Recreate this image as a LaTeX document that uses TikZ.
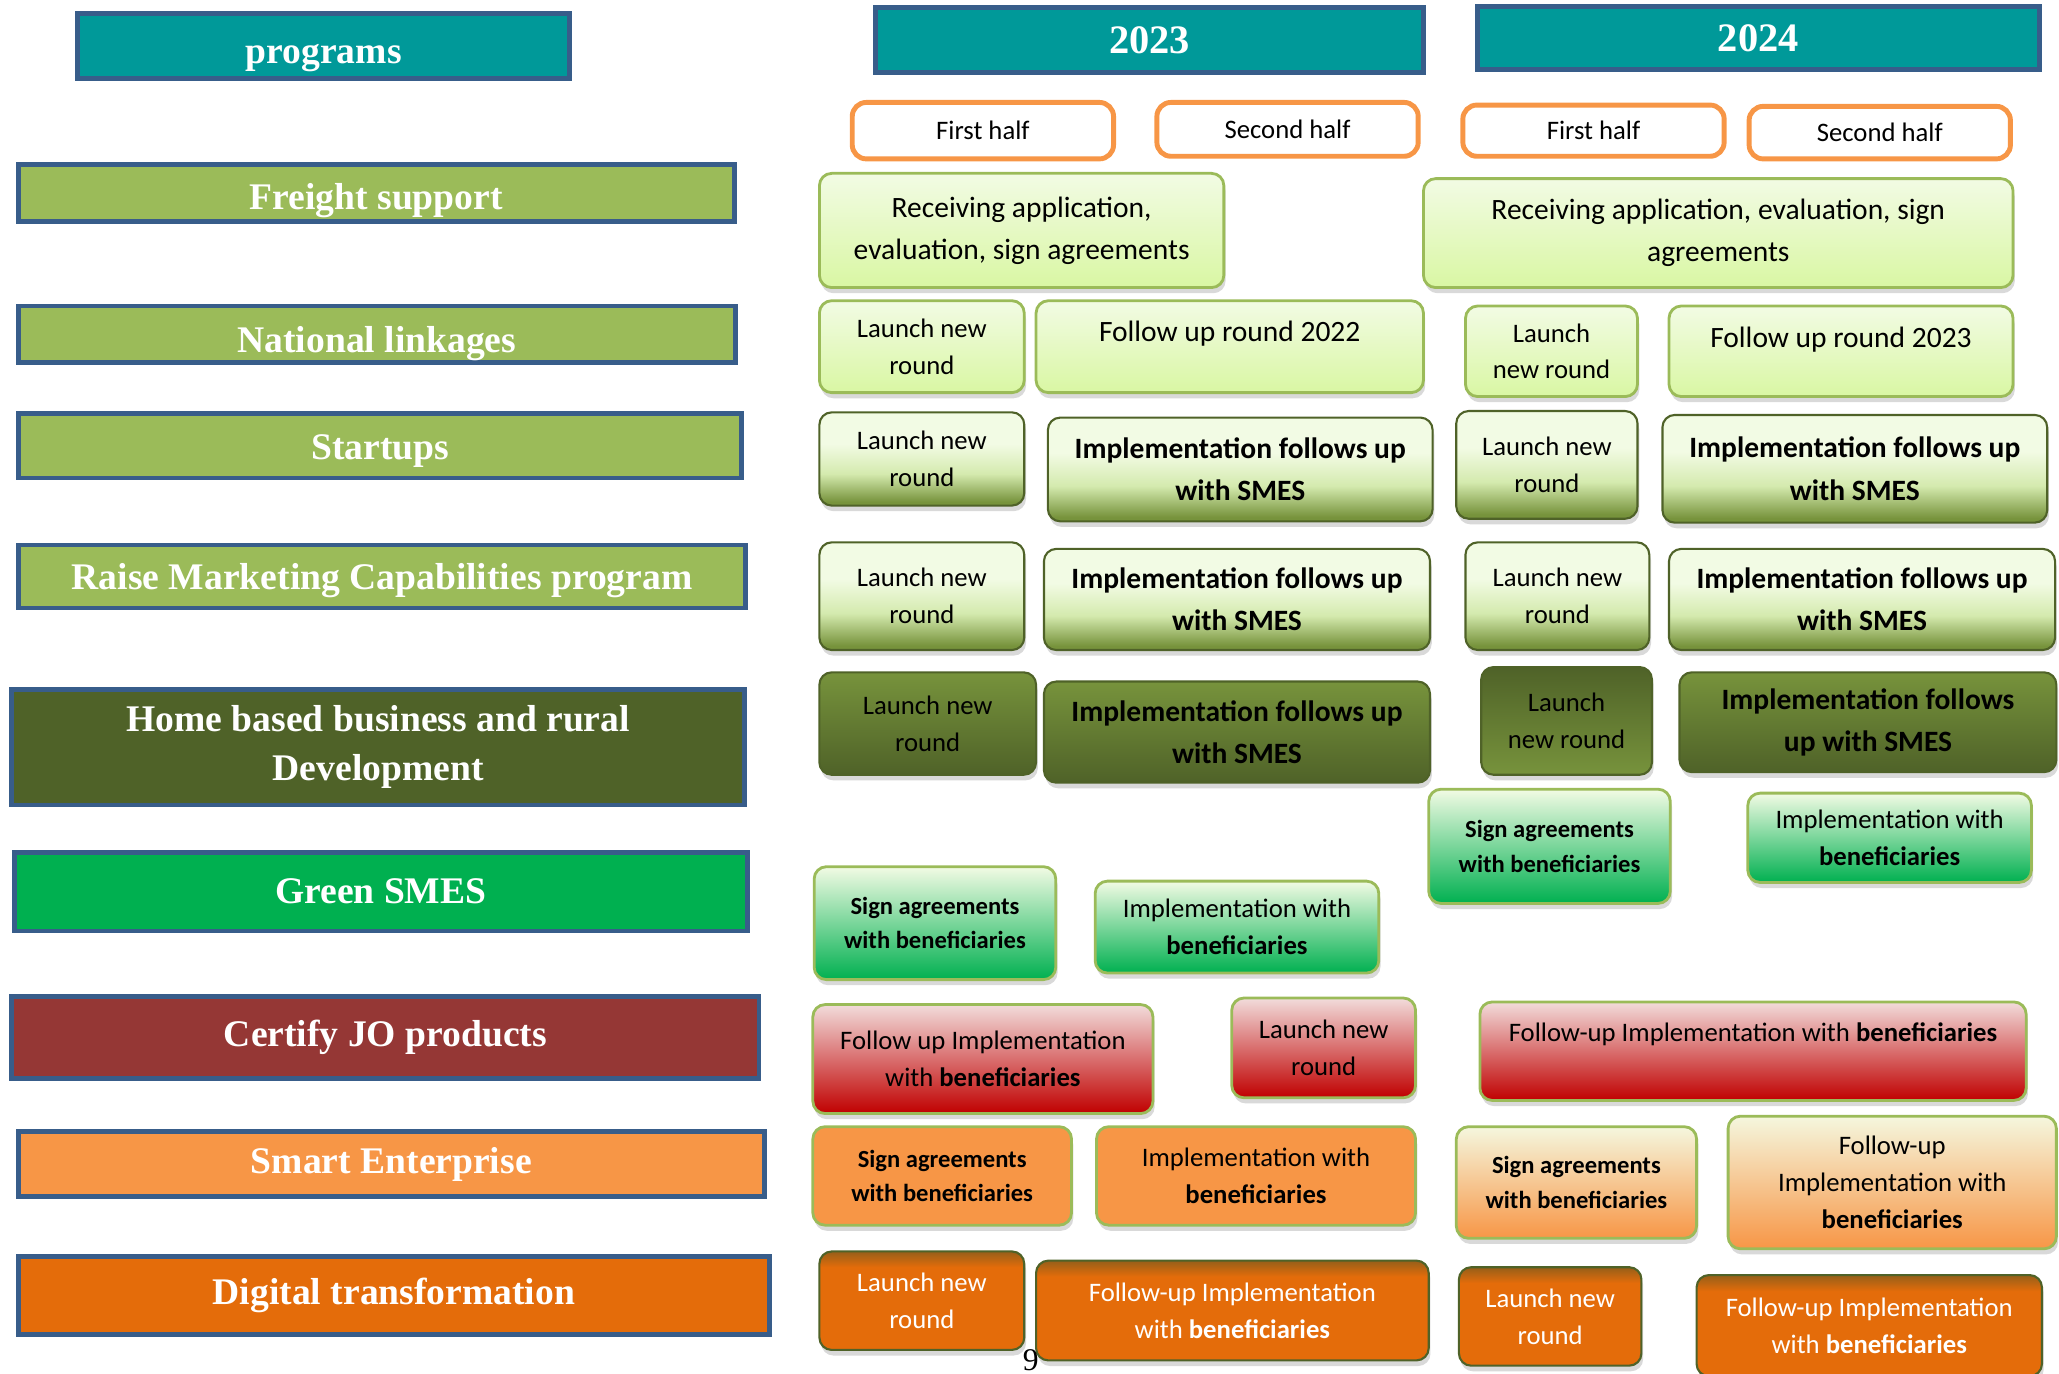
\documentclass[tikz,border=0pt]{standalone}
\usepackage{fontspec}
\setmainfont{Liberation Serif}
\newfontfamily\taskfont{Carlito}
\usepackage{xcolor}
\usepackage{tikz}
\usetikzlibrary{shadows,positioning}
\definecolor{progTeal}{RGB}{0,153,153}
\definecolor{progEdge}{RGB}{56,93,138}
\definecolor{leafGreen}{RGB}{155,187,89}
\definecolor{oliveDark}{RGB}{79,98,40}
\definecolor{oliveMid}{RGB}{119,147,60}
\definecolor{greenSme}{RGB}{0,176,80}
\definecolor{certRed}{RGB}{149,55,53}
\definecolor{smartOrange}{RGB}{247,150,70}
\definecolor{digiOrange}{RGB}{228,108,10}
\definecolor{rustTop}{RGB}{150,95,25}
\definecolor{paleGreen}{RGB}{242,251,228}
\definecolor{limeGreen}{RGB}{217,247,163}
\definecolor{fadeMid}{RGB}{212,234,174}
\definecolor{mintMid}{RGB}{150,225,170}
\definecolor{paleRose}{RGB}{242,220,219}
\definecolor{roseMid}{RGB}{200,85,85}
\definecolor{deepRed}{RGB}{192,0,0}
\definecolor{paleCream}{RGB}{245,247,222}
\definecolor{creamMid}{RGB}{246,200,145}
\pgfdeclareverticalshading{fadeshade}{100bp}{color(0bp)=(oliveMid); color(27bp)=(oliveMid); color(42bp)=(fadeMid); color(58bp)=(paleGreen); color(100bp)=(paleGreen)}
\pgfdeclareverticalshading{rustshade}{100bp}{color(0bp)=(digiOrange); color(67bp)=(digiOrange); color(75bp)=(rustTop); color(100bp)=(rustTop)}

\begin{document}
\begin{tikzpicture}[x=0.013131cm, y=-0.013131cm,
  span/.style n args={4}{at={({(#1+#3)/2},{(#2+#4)/2})},
    minimum width={0.013131cm*(#3-#1)}, minimum height={0.013131cm*(#4-#2)}},
  prog/.style={draw=progEdge, line width=1.4pt, text=white, inner sep=0pt, align=center,
    font=\fontsize{10.7}{14}\selectfont\bfseries},
  half/.style={draw=smartOrange, line width=1.4pt, rounded corners=4pt, fill=white, inner sep=0pt,
    font=\taskfont\fontsize{7.6}{9}\selectfont},
  task/.style={rounded corners=3.5pt, inner sep=0pt, align=center, line width=0.8pt,
    font=\taskfont\fontsize{7.6}{10.5}\selectfont,
    drop shadow={shadow xshift=0.5pt, shadow yshift=-1.6pt, opacity=0.25, fill=black!60}},
  big/.style={font=\taskfont\fontsize{8.4}{12}\selectfont},
  small/.style={font=\taskfont\fontsize{7}{9.8}\selectfont\bfseries},
  lime/.style={task, draw=leafGreen, top color=paleGreen, bottom color=limeGreen},
  fade/.style={task, draw=oliveDark, line width=0.6pt, shade, shading=fadeshade},
  moss/.style={task, draw=oliveDark, line width=0.6pt, top color=oliveMid, bottom color=oliveDark},
  mossup/.style={task, draw=oliveDark, line width=0.6pt, top color=oliveDark, bottom color=oliveMid},
  mint/.style={task, draw=leafGreen, top color=paleGreen, middle color=mintMid, bottom color=greenSme},
  rose/.style={task, draw=leafGreen, top color=paleRose, middle color=roseMid, bottom color=deepRed},
  peach/.style={task, draw=leafGreen, fill=smartOrange},
  cream/.style={task, draw=leafGreen, top color=paleCream, middle color=creamMid, bottom color=smartOrange},
  rust/.style={task, draw=oliveDark, line width=0.6pt, shade, shading=rustshade, text=white}]
\useasboundingbox (0,0) rectangle (1568,1046);

% programs column
\node[prog, fill=progTeal, text height=12.5pt, span={59}{10}{434}{60}] (programs) {programs};
\node[prog, fill=leafGreen, text height=11.8pt, span={14}{125}{559}{169}] (freight) {Freight support};
\node[prog, fill=leafGreen, text height=12.5pt, span={14}{233}{560}{276}] (linkages) {National linkages};
\node[prog, fill=leafGreen, text height=10.3pt, span={14}{315}{565}{364}] (startups) {Startups};
\node[prog, fill=leafGreen, text height=9.5pt, span={14}{415}{568}{463}] (marketing) {Raise Marketing Capabilities program};
\node[prog, fill=oliveDark, span={9}{525}{567}{613}] (homebased) {Home based business and rural\\ Development};
\node[prog, fill=greenSme, span={11}{649}{569}{709}] (greensmes) {Green SMES};
\node[prog, fill=certRed, span={9}{759}{578}{821}] (certify) {Certify JO products};
\node[prog, fill=smartOrange, span={14}{862}{582}{911}] (smart) {Smart Enterprise};
\node[prog, fill=digiOrange, span={14}{957}{586}{1016}] (digital) {Digital transformation};

% years and halves
\node[prog, fill=progTeal, font=\fontsize{11.5}{14}\selectfont\bfseries, span={667}{6}{1084}{55}] (y2023) {2023};
\node[prog, fill=progTeal, font=\fontsize{11.5}{14}\selectfont\bfseries, span={1125}{5}{1553}{53}] (y2024) {2024};
\node[half, span={649}{78}{848}{121}] (h23a) {First half};
\node[half, span={881}{78}{1080}{119}] (h23b) {Second half};
\node[half, span={1114}{80}{1313}{119}] (h24a) {First half};
\node[half, span={1332}{81}{1531}{121}] (h24b) {Second half};

% freight support
\node[lime, big, span={624}{132}{932}{219}] (fr23) {Receiving application,\\ evaluation, sign agreements};
\node[lime, big, span={1084}{136}{1533}{219}] (fr24) {Receiving application, evaluation, sign\\ agreements};

% national linkages
\node[lime, span={624}{229}{780}{299}] (nl23a) {Launch new\\ round};
\node[lime, big, text depth=9pt, span={789}{229}{1084}{299}] (nl23b) {Follow up round 2022};
\node[lime, span={1116}{233}{1247}{302}] (nl24a) {Launch\\ new round};
\node[lime, big, text depth=8pt, span={1271}{233}{1533}{302}] (nl24b) {Follow up round 2023};

% startups
\node[fade, span={624}{314}{780}{385}] (st23a) {Launch new\\ round};
\node[fade, big, span={798}{318}{1091}{397}] (st23b) {\textbf{Implementation follows up}\\ \textbf{with SMES}};
\node[fade, span={1109}{313}{1247}{395}] (st24a) {Launch new\\ round};
\node[fade, big, span={1266}{316}{1559}{398}] (st24b) {\textbf{Implementation follows up}\\ \textbf{with SMES}};

% raise marketing
\node[fade, span={624}{413}{780}{495}] (rm23a) {Launch new\\ round};
\node[fade, big, span={795}{418}{1089}{495}] (rm23b) {\textbf{Implementation follows up}\\ \textbf{with SMES}};
\node[fade, span={1116}{413}{1256}{495}] (rm24a) {Launch new\\ round};
\node[fade, big, span={1271}{418}{1565}{495}] (rm24b) {\textbf{Implementation follows up}\\ \textbf{with SMES}};

% home based
\node[moss, span={624}{512}{789}{590}] (hb23a) {Launch new\\ round};
\node[moss, big, span={795}{519}{1089}{596}] (hb23b) {\textbf{Implementation follows up}\\ \textbf{with SMES}};
\node[mossup, span={1128}{508}{1258}{590}] (hb24a) {Launch\\ new round};
\node[moss, big, span={1279}{512}{1566}{588}] (hb24b) {\textbf{Implementation follows}\\ \textbf{up with SMES}};

% green smes
\node[mint, small, span={1088}{601}{1272}{688}] (gs24a) {Sign agreements\\ with beneficiaries};
\node[mint, span={1331}{604}{1547}{672}] (gs24b) {Implementation with\\ \textbf{beneficiaries}};
\node[mint, small, span={620}{660}{804}{746}] (gs23a) {Sign agreements\\ with beneficiaries};
\node[mint, span={834}{671}{1050}{741}] (gs23b) {Implementation with\\ \textbf{beneficiaries}};

% certify
\node[rose, span={619}{765}{878}{848}] (cj23a) {Follow up Implementation\\ with \textbf{beneficiaries}};
\node[rose, span={938}{760}{1078}{836}] (cj23b) {Launch new\\ round};
\node[rose, text depth=11pt, span={1127}{763}{1543}{838}] (cj24) {Follow-up Implementation with \textbf{beneficiaries}};

% smart enterprise
\node[peach, small, span={619}{858}{816}{933}] (se23a) {Sign agreements\\ with beneficiaries};
\node[peach, span={835}{858}{1078}{933}] (se23b) {Implementation with\\ \textbf{beneficiaries}};
\node[cream, small, span={1109}{858}{1292}{943}] (se24a) {Sign agreements\\ with beneficiaries};
\node[cream, span={1316}{850}{1566}{951}] (se24b) {Follow-up\\ Implementation with\\ \textbf{beneficiaries}};

% digital transformation
\node[rust, span={624}{953}{780}{1028}] (dt23a) {Launch new\\ round};
\node[rust, span={789}{960}{1088}{1036}] (dt23b) {Follow-up Implementation\\ with \textbf{beneficiaries}};
\node[rust, span={1111}{965}{1250}{1040}] (dt24a) {Launch new\\ round};
\node[rust, span={1292}{971}{1555}{1048}] (dt24b) {Follow-up Implementation\\ with \textbf{beneficiaries}};

\node[font=\fontsize{9}{10}\selectfont] (pagenum) at (785,1036) {9};
\end{tikzpicture}
\end{document}
